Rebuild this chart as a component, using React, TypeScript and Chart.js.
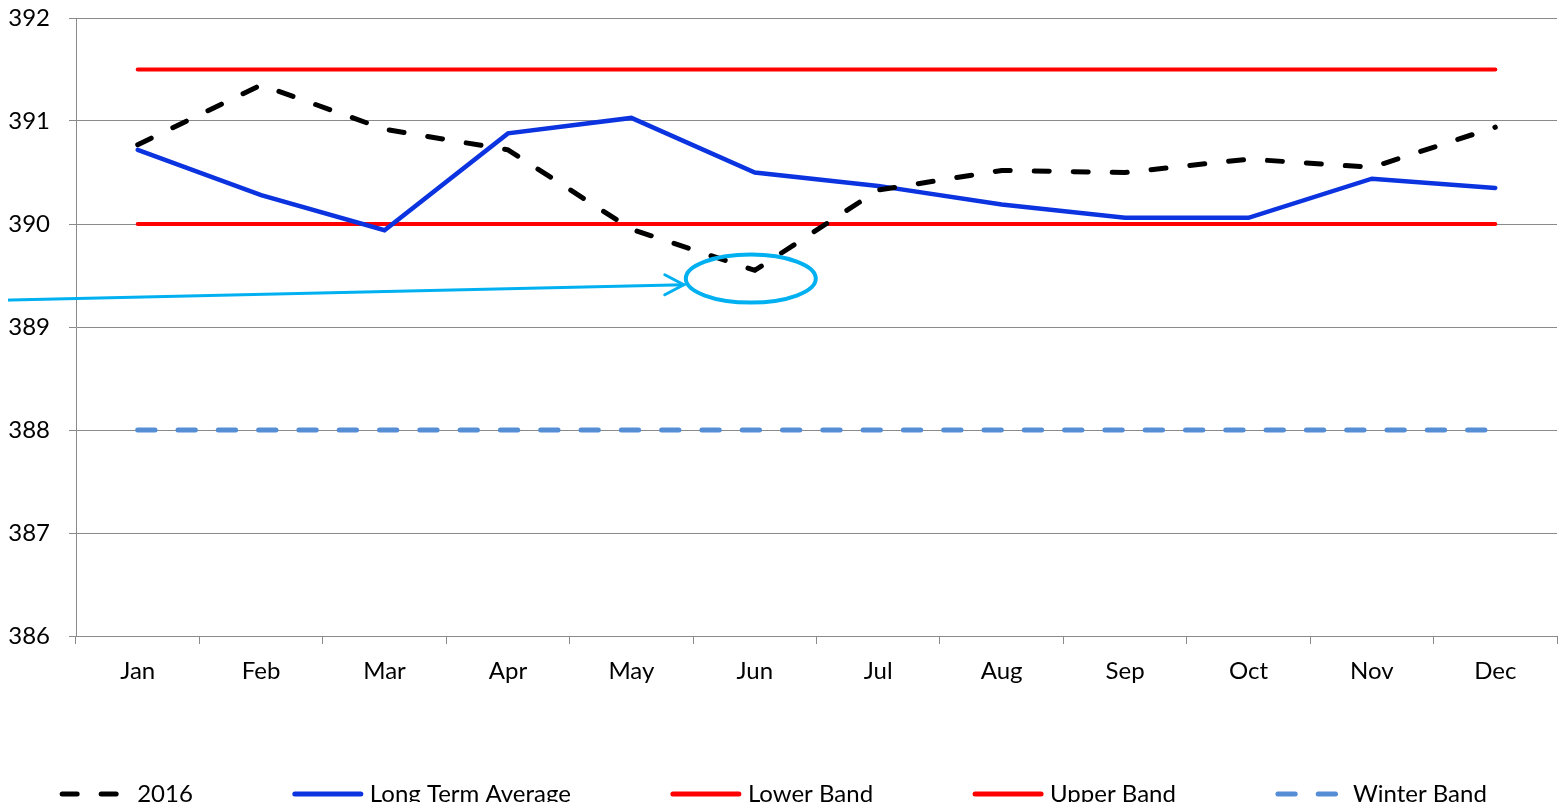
import React, { useEffect, useRef } from 'react';
import { Chart, registerables } from 'chart.js';

Chart.register(...registerables);

const months = ['Jan', 'Feb', 'Mar', 'Apr', 'May', 'Jun', 'Jul', 'Aug', 'Sep', 'Oct', 'Nov', 'Dec'];
const series2016 = [390.77, 391.35, 390.92, 390.72, 389.95, 389.55, 390.33, 390.52, 390.5, 390.63, 390.55, 390.94];
const longTermAverage = [390.72, 390.28, 389.94, 390.88, 391.03, 390.5, 390.37, 390.19, 390.06, 390.06, 390.44, 390.35];
const lowerBand = [390, 390, 390, 390, 390, 390, 390, 390, 390, 390, 390, 390];
const upperBand = [391.5, 391.5, 391.5, 391.5, 391.5, 391.5, 391.5, 391.5, 391.5, 391.5, 391.5, 391.5];
const winterBand = [388, 388, 388, 388, 388, 388, 388, 388, 388, 388, 388, 388];
const yMin = 386;
const yMax = 392;
const yStep = 1;

// annotation (circle around the June dip, arrow coming from the left)
const annotationMonth = 'Jun';
const annotationValue = 389.47;
const arrowStartValue = 389.26;
const arrowEndValue = 389.41;

const FONT = 'Lato, "Open Sans", sans-serif';
const GRID = '#8a8a8a';

const annotationPlugin = {
  id: 'circleArrow',
  afterDraw(chart: any) {
    const { ctx, scales } = chart;
    const xs = scales.x;
    const ys = scales.y;
    const cx = xs.getPixelForValue(months.indexOf(annotationMonth)) - 4;
    const cy = ys.getPixelForValue(annotationValue);
    const rx = 65;
    const ry = 24;
    ctx.save();
    ctx.strokeStyle = '#00b0f0';
    ctx.lineWidth = 4;
    ctx.beginPath();
    ctx.ellipse(cx, cy, rx, ry, 0, 0, Math.PI * 2);
    ctx.stroke();
    const tipX = cx - rx - 2;
    const tipY = ys.getPixelForValue(arrowEndValue);
    const startY = ys.getPixelForValue(arrowStartValue);
    ctx.lineWidth = 3;
    ctx.lineCap = 'round';
    ctx.beginPath();
    ctx.moveTo(0, startY);
    ctx.lineTo(tipX, tipY);
    ctx.stroke();
    ctx.beginPath();
    ctx.moveTo(tipX - 19, tipY - 10);
    ctx.lineTo(tipX, tipY);
    ctx.lineTo(tipX - 19, tipY + 10);
    ctx.stroke();
    ctx.restore();
  },
};

const legendPlugin = {
  id: 'customLegend',
  afterDraw(chart: any) {
    const { ctx } = chart;
    const datasets = chart.data.datasets;
    const lineLen = 70;
    const textGap = 7;
    const itemGap = 100;
    ctx.save();
    ctx.font = `24px ${FONT}`;
    const widths = datasets.map((d: any) => lineLen + textGap + ctx.measureText(d.label).width);
    const total = widths.reduce((a: number, b: number) => a + b, 0) + itemGap * (datasets.length - 1);
    let x = chart.width / 2 - 10 - total / 2;
    const y = chart.height - 16;
    datasets.forEach((d: any, i: number) => {
      ctx.strokeStyle = d.borderColor;
      ctx.lineWidth = 5;
      ctx.lineCap = 'round';
      ctx.setLineDash(d.borderDash || []);
      ctx.beginPath();
      ctx.moveTo(x + 2, y);
      ctx.lineTo(x + lineLen - 2, y);
      ctx.stroke();
      ctx.setLineDash([]);
      ctx.fillStyle = '#000';
      ctx.textAlign = 'left';
      ctx.textBaseline = 'middle';
      ctx.fillText(d.label, x + lineLen + textGap, y);
      x += widths[i] + itemGap;
    });
    ctx.restore();
  },
};

export default function App() {
  const canvasRef = useRef<HTMLCanvasElement>(null);

  useEffect(() => {
    if (!canvasRef.current) return;
    const chart = new Chart(canvasRef.current, {
      type: 'line',
      data: {
        labels: months,
        datasets: [
          {
            label: '2016',
            data: series2016,
            borderColor: '#000000',
            borderWidth: 5,
            borderDash: [15, 24],
            borderCapStyle: 'round',
            pointRadius: 0,
            tension: 0,
          },
          {
            label: 'Long Term Average',
            data: longTermAverage,
            borderColor: '#0b33e0',
            borderWidth: 4.5,
            borderCapStyle: 'round',
            pointRadius: 0,
            tension: 0,
          },
          {
            label: 'Lower Band',
            data: lowerBand,
            borderColor: '#ff0000',
            borderWidth: 4,
            borderCapStyle: 'round',
            pointRadius: 0,
            tension: 0,
          },
          {
            label: 'Upper Band',
            data: upperBand,
            borderColor: '#ff0000',
            borderWidth: 4,
            borderCapStyle: 'round',
            pointRadius: 0,
            tension: 0,
          },
          {
            label: 'Winter Band',
            data: winterBand,
            borderColor: '#558ed5',
            borderWidth: 5,
            borderDash: [17.3, 23],
            borderCapStyle: 'round',
            pointRadius: 0,
            tension: 0,
          },
        ],
      } as any,
      options: {
        animation: false,
        responsive: true,
        maintainAspectRatio: false,
        layout: { padding: { top: 18, right: 10, bottom: 119, left: 0 } },
        plugins: {
          legend: { display: false },
          tooltip: { enabled: false },
        },
        scales: {
          x: {
            offset: true,
            grid: {
              display: true,
              offset: true,
              drawOnChartArea: false,
              drawTicks: true,
              tickLength: 8,
              color: GRID,
              lineWidth: 1,
            },
            border: { display: true, color: GRID, width: 1 },
            ticks: {
              color: '#000',
              font: { family: FONT, size: 24 },
              padding: 13,
              maxRotation: 0,
              autoSkip: false,
            },
            afterFit(s: any) {
              s.height = 55;
              s.paddingLeft = 0;
              s.paddingRight = 0;
            },
          },
          y: {
            min: yMin,
            max: yMax,
            ticks: {
              stepSize: yStep,
              color: '#000',
              font: { family: FONT, size: 24 },
              padding: 19,
            },
            grid: {
              color: GRID,
              lineWidth: 1,
              tickLength: 7,
            },
            border: { display: true, color: GRID, width: 1 },
            afterFit(s: any) {
              s.width = 76;
              s.paddingTop = 0;
              s.paddingBottom = 0;
            },
          },
        },
      } as any,
      plugins: [annotationPlugin, legendPlugin],
    });
    return () => chart.destroy();
  }, []);

  return (
    <div style={{ position: 'relative', height: '810px', margin: '-8px' }}>
      <canvas ref={canvasRef} />
    </div>
  );
}
